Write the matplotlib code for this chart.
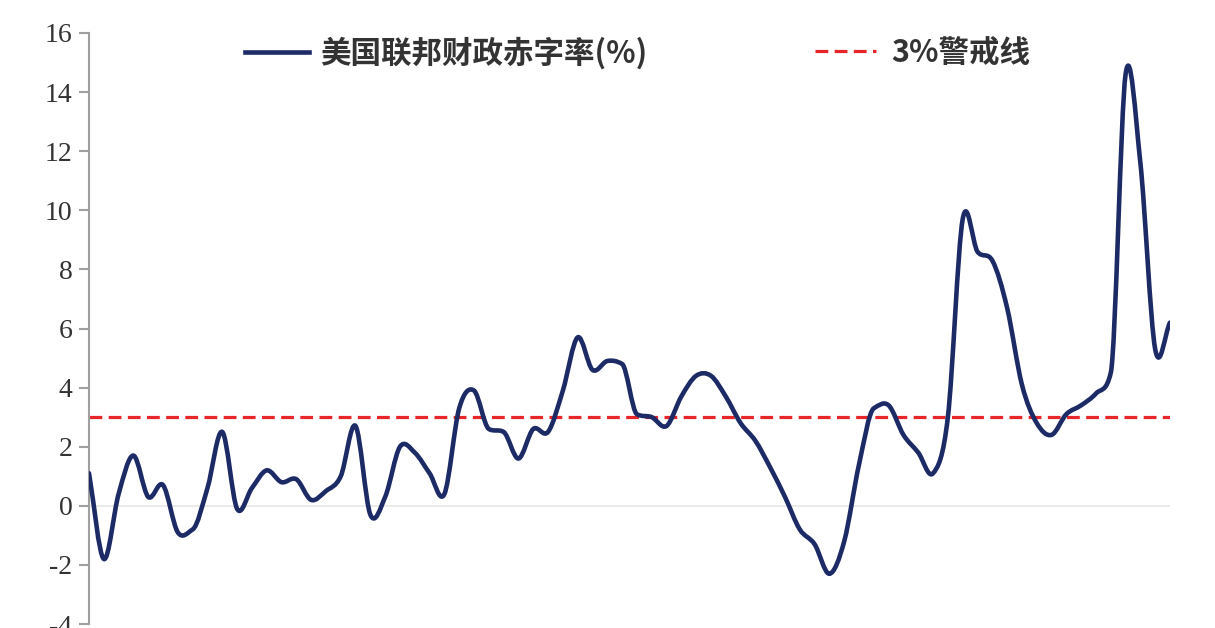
import numpy as np
import matplotlib
matplotlib.use("Agg")
import matplotlib.pyplot as plt
from matplotlib.path import Path
from matplotlib.patches import PathPatch
from matplotlib.lines import Line2D

plt.rcParams['font.family'] = ['Noto Sans CJK SC', 'DejaVu Sans']

# US federal deficit, % of GDP
years = list(range(1950, 2024))
deficit = [1.1, -1.8, 0.4, 1.7, 0.3, 0.7, -0.9, -0.8, 0.6, 2.5,
           -0.1, 0.6, 1.2, 0.8, 0.9, 0.2, 0.5, 1.0, 2.7, -0.3,
           0.3, 2.0, 1.8, 1.1, 0.4, 3.3, 3.9, 2.6, 2.5, 1.6,
           2.6, 2.5, 3.9, 5.7, 4.6, 4.9, 4.8, 3.1, 3.0, 2.7,
           3.7, 4.4, 4.4, 3.7, 2.8, 2.2, 1.3, 0.3, -0.8, -1.3,
           -2.3, -1.2, 1.4, 3.3, 3.4, 2.4, 1.8, 1.1, 3.0, 9.7,
           8.6, 8.3, 6.7, 4.1, 2.8, 2.4, 3.1, 3.4, 3.8, 4.5,
           14.6, 11.6, 5.3, 6.2]
warn_level = 3
label_deficit = '美国联邦财政赤字率(%)'
label_warn = '3%警戒线'
yticks = list(range(-4, 17, 2))

navy = '#1c2a66'
red = '#e8262a'

fig = plt.figure(figsize=(12.15, 6.28), dpi=100)
ax = fig.add_axes([89 / 1215, 1 - 624 / 628, (1170 - 89) / 1215, (624 - 33) / 628])


def smooth_path(xs, ys):
    # bezier through the points, like a spreadsheet "smoothed line";
    # tangents limited so the curve doesn't dip before a big jump
    pts = np.column_stack([xs, ys]).astype(float)
    n = len(pts)
    d = np.diff(pts[:, 1])
    m = np.zeros(n)
    m[0], m[-1] = d[0], d[-1]
    for i in range(1, n - 1):
        m[i] = (d[i - 1] + d[i]) / 2
        if d[i - 1] * d[i] > 0:
            lim = 3 * min(abs(d[i - 1]), abs(d[i]))
            if abs(m[i]) > lim:
                m[i] = np.sign(m[i]) * lim
    verts = [pts[0]]
    codes = [Path.MOVETO]
    for i in range(n - 1):
        h = pts[i + 1, 0] - pts[i, 0]
        c1 = [pts[i, 0] + h / 3, pts[i, 1] + m[i] / 3]
        c2 = [pts[i + 1, 0] - h / 3, pts[i + 1, 1] - m[i + 1] / 3]
        verts += [c1, c2, pts[i + 1]]
        codes += [Path.CURVE4] * 3
    return Path(verts, codes)


ax.axhline(0, color='#e6e6e6', lw=1.2, zorder=1)
ax.axhline(warn_level, color=red, lw=2.3, ls=(0, (4, 2)), zorder=2)
ax.add_patch(PathPatch(smooth_path(years, deficit), fill=False, edgecolor=navy,
                       lw=3.3, joinstyle='round', capstyle='round', zorder=3))

ax.set_xlim(years[0], years[-1])
ax.set_ylim(-4, 16)
ax.set_yticks(yticks)
ax.set_yticklabels([str(t) for t in yticks], fontfamily='Liberation Serif', fontsize=20, color='#333333')
ax.set_xticks([])
for s in ['top', 'right', 'bottom']:
    ax.spines[s].set_visible(False)
ax.spines['left'].set_color('#a0a0a0')
ax.spines['left'].set_linewidth(1.5)
ax.tick_params(axis='y', direction='out', length=7, width=1.5, color='#a0a0a0', pad=5)
ax.patch.set_alpha(0)

legend_font = {'family': ['Noto Sans CJK SC', 'DejaVu Sans'], 'size': 22, 'weight': 'bold'}
leg1 = fig.legend([Line2D([], [], color=navy, lw=3.3)], [label_deficit],
                  loc='center left', bbox_to_anchor=(245 / 1215, 1 - 53 / 628),
                  frameon=False, handlelength=2.1, handletextpad=0.35,
                  borderpad=0, borderaxespad=0, prop=legend_font, labelcolor='#333333')
leg2 = fig.legend([Line2D([], [], color=red, lw=2.3, ls=(0, (4, 2)))], [label_warn],
                  loc='center left', bbox_to_anchor=(815 / 1215, 1 - 53 / 628),
                  frameon=False, handlelength=2.0, handletextpad=0.5,
                  borderpad=0, borderaxespad=0, prop=legend_font, labelcolor='#333333')

fig.savefig('out.png', dpi=100)
